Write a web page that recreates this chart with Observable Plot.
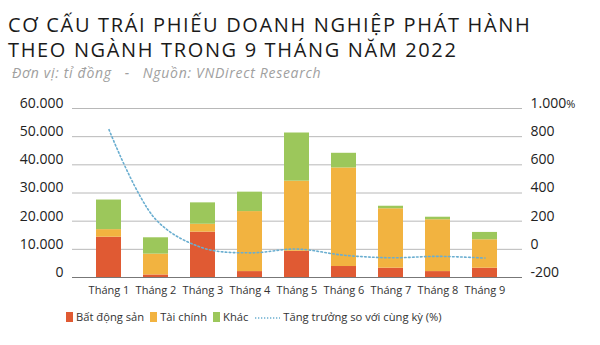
<!DOCTYPE html>
<html><head><meta charset="utf-8">
<script src="https://cdn.jsdelivr.net/npm/d3@7"></script>
<script src="https://cdn.jsdelivr.net/npm/@observablehq/plot@0.6"></script>
<style>
body{margin:0;background:#fff;font-family:"Open Sans",sans-serif;width:600px;height:345px;overflow:hidden;}
#title{position:absolute;left:8px;top:12px;font-size:20px;line-height:25px;color:#1a1a1a;letter-spacing:1.65px;}
#sub{position:absolute;left:12px;top:63px;font-size:14px;font-style:italic;color:#a0a0a0;letter-spacing:0.7px;}
#chart{position:absolute;left:0;top:85px;}
#legend{position:absolute;left:66px;top:309px;font-size:11.2px;color:#333;display:flex;align-items:center;white-space:nowrap;}
.sw{display:inline-block;width:7px;height:10px;margin-right:3px;}
.it{display:flex;align-items:center;margin-right:6px;}
</style></head><body>
<div id="title">CƠ CẤU TRÁI PHIẾU DOANH NGHIỆP PHÁT HÀNH<br>THEO NGÀNH TRONG 9 THÁNG NĂM 2022</div>
<div id="sub">Đơn vị: tỉ đồng &nbsp; - &nbsp; Nguồn: VNDirect Research</div>
<div id="chart"></div>
<div id="legend"></div>
<script>
const months = ["Tháng 1","Tháng 2","Tháng 3","Tháng 4","Tháng 5","Tháng 6","Tháng 7","Tháng 8","Tháng 9"];
const series = ["Bất động sản","Tài chính","Khác"];
const colors = ["#e05a33","#f2b340","#9cc75b"];
const batDongSan = [14300, 900, 16100, 2100, 9300, 3900, 3300, 2100, 3300];
const taiChinh   = [2700, 7400, 2800, 21300, 24900, 35000, 21100, 18400, 10100];
const khac       = [10500, 5800, 7600, 6900, 17100, 5200, 900, 900, 2600];
const growth     = [850, 210, 10, -25, 2, -42, -60, -50, -62];
const leftTicks  = [0,10000,20000,30000,40000,50000,60000];
const rightTicks = [-200,0,200,400,600,800,1000];
const lineLabel = "Tăng trưởng so với cùng kỳ (%)";

const vals = [batDongSan, taiChinh, khac];
const bars = [];
series.forEach((s,i)=>months.forEach((m,j)=>bars.push({month:m, series:s, value:vals[i][j]})));
const toLeft = g => (g + 200) * 50;
const line = months.map((m,j)=>({month:m, v: toLeft(growth[j])}));
const fmt = d3.format(",");
const viFmt = v => fmt(v).replace(/,/g,".");

const plot = Plot.plot({
  width: 600, height: 217,
  marginLeft: 72, marginRight: 78, marginTop: 23, marginBottom: 25,
  style: {fontFamily: "Open Sans, sans-serif", background: "transparent"},
  x: {domain: months, padding: 0.46, label: null},
  y: {domain: [0, 60000], label: null},
  color: {domain: series, range: colors},
  marks: [
    Plot.gridY(leftTicks, {stroke: "#b8b8b8", strokeOpacity: 1, strokeWidth: 1}),
    Plot.barY(bars, Plot.stackY({x: "month", y: "value", fill: "series", order: series})),
    Plot.ruleY([0], {stroke: "#777", strokeWidth: 1}),
    Plot.line(line, {x: "month", y: "v", curve: "catmull-rom", stroke: "#6aaed0", strokeWidth: 1.6, strokeDasharray: "1.6,2.4"}),
    Plot.axisY(leftTicks, {anchor: "left", tickSize: 0, tickPadding: 9, dy: -5, tickFormat: viFmt, fontSize: 14, fill: "#222", label: null}),
    Plot.axisY(rightTicks.map(toLeft), {anchor: "right", tickSize: 0, tickPadding: 8, dy: -5, textAnchor: "start",
      tickFormat: (d) => { const g = d/50 - 200; return g === 1000 ? "1.000" : String(g); }, fontSize: 14, fill: "#222", label: null}),
    Plot.axisX({tickSize: 0, tickPadding: 9, fontSize: 11, fill: "#333", label: null})
  ]
});
document.getElementById("chart").appendChild(plot);
const svg = d3.select(plot);
svg.selectAll("text").filter(function(){return this.textContent === "1.000";}).each(function(){
  d3.select(this).append("tspan").attr("font-size", 11).text("%");
});

const lg = document.getElementById("legend");
series.forEach((s,i)=>{
  const it = document.createElement("span"); it.className="it";
  it.innerHTML = `<span class="sw" style="background:${colors[i]}"></span>${s}`;
  lg.appendChild(it);
});
const it = document.createElement("span"); it.className="it";
it.innerHTML = `<svg width="28" height="10" style="margin-right:1px"><line x1="1" x2="26" y1="6" y2="6" stroke="#6aaed0" stroke-width="1.3" stroke-dasharray="1.3,1.7"/></svg>${lineLabel}`;
lg.appendChild(it);
</script>
</body></html>
